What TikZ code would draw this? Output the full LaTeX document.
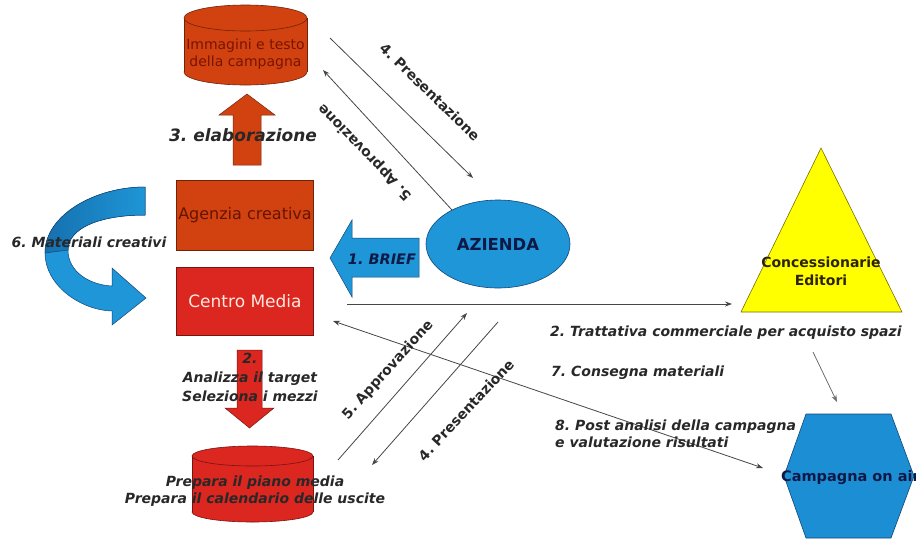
\documentclass[tikz,border=0pt]{standalone}
\usepackage{fontspec}
\setmainfont{DejaVu Sans}
\usetikzlibrary{arrows.meta,shapes.geometric}
\definecolor{orng}{RGB}{210,66,16}
\definecolor{orngdark}{RGB}{110,35,10}
\definecolor{redm}{RGB}{220,38,32}
\definecolor{reddark}{RGB}{120,20,15}
\definecolor{bluef}{RGB}{30,150,215}
\definecolor{bluedeep}{RGB}{22,112,175}
\definecolor{bluedark}{RGB}{20,70,120}
\definecolor{yell}{RGB}{255,255,0}
\definecolor{yelldark}{RGB}{120,110,0}
\definecolor{lblgray}{RGB}{40,40,40}
\definecolor{navy}{RGB}{15,25,70}
\definecolor{linegray}{RGB}{70,70,70}
\tikzset{
  lbl/.style={font=\fontsize{14}{17}\selectfont\bfseries\itshape, text=lblgray, inner sep=0pt, align=center},
  rlbl/.style={font=\fontsize{14}{17}\selectfont\bfseries, text=lblgray, inner sep=0pt},
  conn/.style={draw=linegray, line width=0.8pt, -{Stealth[length=7pt,width=5pt]}},
  conn2/.style={draw=linegray, line width=0.8pt, {Stealth[length=7pt,width=5pt]}-{Stealth[length=7pt,width=5pt]}},
  boxnode/.style={draw, rectangle, minimum width=137pt, inner sep=0pt, line width=0.6pt},
}
\begin{document}
\frenchspacing
\begin{tikzpicture}[x=1pt,y=-1pt]
\fill[white] (0,0) rectangle (916,539);
\path[use as bounding box] (0,0) rectangle (916,539);

% ---- top cylinder
\filldraw[fill=orng, draw=orngdark, line width=0.6pt] (245.5,72) ellipse[x radius=61.5, y radius=13];
\fill[orng] (184,18) rectangle (307,72);
\draw[orngdark, line width=0.6pt] (184,18) -- (184,72) (307,18) -- (307,72);
\filldraw[fill=orng, draw=orngdark, line width=0.6pt] (245.5,18) ellipse[x radius=61.5, y radius=13];
\node[font=\fontsize{14}{17}\selectfont, text={rgb,255:red,120;green,20;blue,0}, align=center, inner sep=0pt] (cylA) at (245.5,54) {Immagini e testo\\della campagna};

% ---- up arrow 3
\filldraw[fill=orng, draw=orngdark, line width=0.5pt] (233,165) -- (233,115) -- (219,115) -- (247,94) -- (275,115) -- (261,115) -- (261,165) -- cycle;
\node[lbl, font=\fontsize{17}{20}\selectfont\bfseries\itshape] (elab) at (243,135) {3. elaborazione};

% ---- boxes
\node[boxnode, fill=orng, draw=orngdark, minimum height=70pt, text={rgb,255:red,100;green,20;blue,0}, font=\fontsize{16}{18}\selectfont] (agenzia) at (245,215) {Agenzia creativa};
\node[boxnode, fill=redm, draw=reddark, minimum height=68pt, text={rgb,255:red,255;green,232;blue,222}, font=\fontsize{17}{19}\selectfont] (centro) at (245,301) {Centro Media};

% ---- curved blue arrow 6
\filldraw[fill=bluef, draw=bluedark, line width=0.5pt]
  (145,187) .. controls (95,187) and (45,215) .. (45,253)
  .. controls (45,285) and (80,310) .. (112,311)
  -- (112,325) -- (146,298) -- (112,268) -- (112,286)
  .. controls (90,285) and (68,272) .. (68,250)
  .. controls (68,228) and (100,215) .. (145,215) -- cycle;
\shade[left color=bluedeep, right color=bluef, draw=bluedark, line width=0.5pt]
  (145,187) .. controls (95,187) and (45,215) .. (45,253)
  -- (68,250) .. controls (68,228) and (100,215) .. (145,215) -- cycle;
\node[lbl] (mat) at (89,242) {6. Materiali creativi};

% ---- brief arrow
\filldraw[fill=bluef, draw=bluedark, line width=0.5pt] (419,238) -- (352,238) -- (352,220) -- (330,258) -- (352,297) -- (352,277) -- (419,277) -- cycle;
\node[font=\fontsize{14.5}{17}\selectfont\bfseries\itshape, text=navy, inner sep=0pt] (brief) at (382,259) {1. BRIEF};

% ---- AZIENDA
\node[ellipse, fill=bluef, draw=bluedark, line width=0.6pt, minimum width=144pt, minimum height=88pt, inner sep=0pt, font=\fontsize{16.5}{19}\selectfont\bfseries, text=navy] (azienda) at (498,244) {AZIENDA};

% ---- down arrow 2
\filldraw[fill=redm, draw=reddark, line width=0.5pt] (237,350) -- (262,350) -- (262,408) -- (274,408) -- (249.5,428) -- (225,408) -- (237,408) -- cycle;
\node[lbl, font=\fontsize{14}{19}\selectfont\bfseries\itshape] (analizza) at (250,377) {2.\\Analizza il target\\Seleziona i mezzi};

% ---- bottom cylinder
\filldraw[fill=redm, draw=reddark, line width=0.6pt] (252.5,512) ellipse[x radius=60.5, y radius=10];
\fill[redm] (192,456) rectangle (313,512);
\draw[reddark, line width=0.6pt] (192,456) -- (192,512) (313,456) -- (313,512);
\filldraw[fill=redm, draw=reddark, line width=0.6pt] (252.5,456) ellipse[x radius=60.5, y radius=10];
\node[lbl] (piano) at (255,491.5) {Prepara il piano media\\Prepara il calendario delle uscite};

% ---- triangle
\filldraw[fill=yell, draw=yelldark, line width=0.6pt] (821,148) -- (902,312) -- (741,312) -- cycle;
\node[font=\fontsize{14}{18}\selectfont\bfseries, text={rgb,255:red,45;green,35;blue,0}, align=center, inner sep=0pt] (conc) at (821,271) {Concessionarie\\Editori};

% ---- hexagon
\filldraw[fill={rgb,255:red,28;green,142;blue,212}, draw=bluedark, line width=0.6pt] (806,414) -- (891,414) -- (914,476) -- (891,538) -- (806,538) -- (784,476) -- cycle;
\node[font=\fontsize{14.5}{17}\selectfont\bfseries, text=navy, inner sep=0pt, anchor=west] (camp) at (781,478) {Campagna on air};

% ---- connector coordinates
\coordinate (p4a) at (330,38);  \coordinate (q4a) at (473,178);
\coordinate (p5a) at (452,210); \coordinate (q5a) at (323,70);
\coordinate (p5b) at (338,460); \coordinate (q5b) at (467,313);
\coordinate (p4b) at (498,322); \coordinate (q4b) at (372,465);
\coordinate (hs) at (347,304);  \coordinate (he) at (732,304);
\coordinate (cs) at (333,321);  \coordinate (ce) at (763,468);
\coordinate (ts) at (813,352);  \coordinate (te) at (837,402);

\draw[conn] (p4a) -- (q4a);
\draw[conn] (p5a) -- (q5a);
\draw[conn] (p5b) -- (q5b);
\draw[conn] (p4b) -- (q4b);
\draw[conn] (hs) -- (he);
\draw[conn2] (cs) -- (ce);
\draw[conn, draw={rgb,255:red,110;green,110;blue,110}] (ts) -- (te);

% ---- connector labels
\node[rlbl, rotate=-44] (l4a) at (430,92) {4. Presentazione};
\node[rlbl, rotate=134] (l5a) at (365,152) {5. Approvazione};
\node[rlbl, rotate=48] (l5b) at (388,370) {5. Approvazione};
\node[rlbl, rotate=47] (l4b) at (466,410) {4. Presentazione};
\node[lbl, anchor=west] (trat) at (550,333) {2. Trattativa commerciale per acquisto spazi};
\node[lbl, anchor=west] (cons) at (551,373) {7. Consegna materiali};
\node[lbl, anchor=west, align=left] (post) at (555,434) {8. Post analisi della campagna\\e valutazione risultati};
\end{tikzpicture}
\end{document}
